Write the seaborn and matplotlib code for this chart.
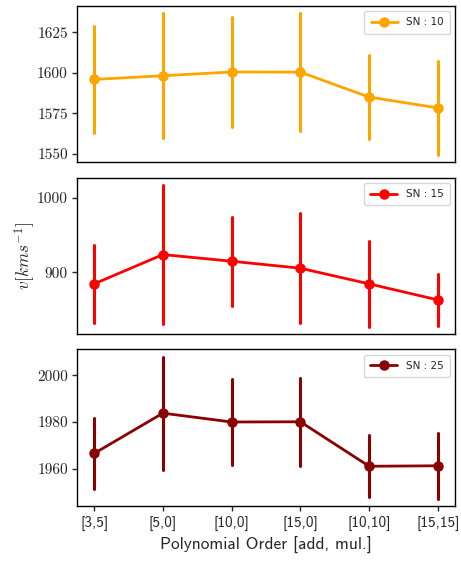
import numpy as np
import pandas as pd
import seaborn as sns
import matplotlib.pyplot as plt
from matplotlib.ticker import FuncFormatter

# polynomial orders [additive, multiplicative]
orders = ["[3,5]", "[5,0]", "[10,0]", "[15,0]", "[10,10]", "[15,15]"]

# SN = 10
v_sn10 = [1595.9, 1598.2, 1600.5, 1600.4, 1585.0, 1578.3]
err_sn10 = [33.0, 38.5, 34.0, 36.5, 26.0, 29.2]
# SN = 15
v_sn15 = [884.3, 923.8, 914.8, 905.4, 884.3, 862.7]
err_sn15 = [53.0, 94.0, 60.0, 74.0, 58.0, 35.0]
# SN = 25
v_sn25 = [1966.5, 1983.8, 1980.0, 1980.1, 1961.0, 1961.2]
err_sn25 = [15.4, 24.3, 18.5, 19.0, 13.3, 14.1]

sn_levels = [10, 15, 25]
colors = ["orange", "red", "darkred"]

sns.set_style("white")
plt.rcParams["mathtext.fontset"] = "cm"

fig, axes = plt.subplots(3, 1, figsize=(4.61, 5.66), dpi=100, sharex=True)
fig.subplots_adjust(left=0.167, right=0.987, top=0.9894, bottom=0.1065, hspace=0.099)

for ax, sn, v, err, c in zip(axes, sn_levels, [v_sn10, v_sn15, v_sn25],
                             [err_sn10, err_sn15, err_sn25], colors):
    # three rows per order (v-err, v, v+err) so the error bar spans min..max
    df = pd.DataFrame({
        "order": np.repeat(orders, 3),
        "v": np.ravel([[m - e, m, m + e] for m, e in zip(v, err)]),
    })
    sns.pointplot(data=df, x="order", y="v", order=orders, color=c,
                  errorbar=lambda x: (x.min(), x.max()),
                  markersize=6.5, markeredgewidth=1, linewidth=2.0,
                  err_kws={"linewidth": 2.2}, ax=ax)
    ax.set_xlim(-0.25, 5.25)
    ax.set_xlabel("")
    ax.set_ylabel("")
    ax.legend([ax.lines[0]], [f"SN : {sn}"], loc="upper right", fontsize=7.5,
              handlelength=2.6, borderpad=0.6)
    ax.yaxis.set_major_formatter(FuncFormatter(lambda y, p: f"{y:.0f}"))
    ax.tick_params(axis="y", which="both", left=True, length=3.5, width=1,
                   labelsize=11, pad=3)
    ax.tick_params(axis="x", bottom=False)
    for s in ax.spines.values():
        s.set_color("black")
        s.set_linewidth(1)

axes[0].set_yticks([1550, 1575, 1600, 1625])
axes[1].set_yticks([900, 1000])
axes[2].set_yticks([1960, 1980, 2000])
for ax in axes:
    for lab in ax.get_yticklabels():
        lab.set_fontfamily("cmr10")

axes[1].set_ylabel(r"$v[km s^{-1}]$", fontsize=12.5)
axes[1].yaxis.set_label_coords(-0.105, 0.5)

axes[2].tick_params(axis="x", bottom=True, length=3.5, width=1, labelsize=11, pad=4)
for lab in axes[2].get_xticklabels():
    lab.set_fontfamily("cmss10")
axes[2].set_xlabel("Polynomial Order [add, mul.]", fontsize=12.5, family="cmss10")

fig.savefig("out.png", dpi=100)
